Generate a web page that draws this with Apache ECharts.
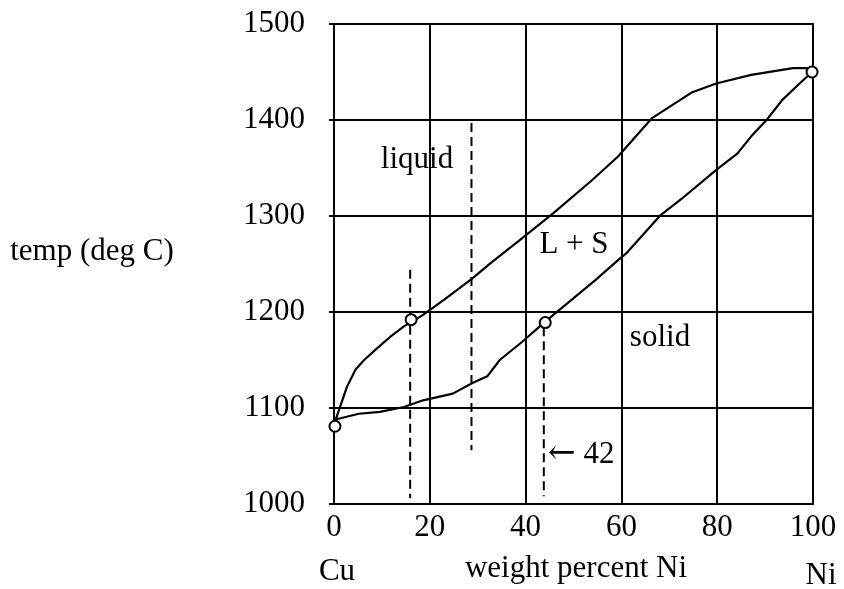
<!DOCTYPE html>
<html>
<head>
<meta charset="utf-8">
<script src="https://cdn.jsdelivr.net/npm/echarts@6/dist/echarts.min.js"></script>
<style>
  html, body { margin: 0; padding: 0; background: #fff; }
  #chart { width: 844px; height: 589px; }
</style>
</head>
<body>
<div id="chart"></div>
<script>
// Cu-Ni phase diagram
var liquidusX = [0.3, 2.7, 4.5, 6.3, 8.5, 11.7, 14.6, 18.6, 23.3, 28.9, 32.7, 39.3, 45.8, 53.8, 59.3, 66.4, 74.8, 79.8, 87.1, 95.8, 99.8];
var liquidusT = [1087, 1122, 1140, 1150, 1160, 1174, 1185, 1197, 1214, 1235, 1251, 1277, 1303, 1337, 1362, 1402, 1429, 1438, 1447, 1454, 1454];
var solidusX = [0.3, 5.2, 9.6, 14.6, 18.6, 24.8, 28.9, 32.0, 34.6, 39.3, 44.1, 48.7, 54.5, 59.3, 61.0, 68.2, 72.6, 79.8, 84.2, 87.1, 90.3, 93.6, 97.2, 99.8];
var solidusT = [1088, 1094, 1096, 1101, 1108, 1115, 1126, 1133, 1150, 1169, 1190, 1209, 1233, 1254, 1261, 1301, 1318, 1348, 1365, 1383, 1400, 1421, 1438, 1450];
var markerX = [0.2, 16.1, 44.1, 99.8];
var markerT = [1081, 1192, 1189, 1450];
var dashX = [15.9, 28.7, 43.8];
var dashTop = [1244, 1397, 1184];
var dashBottom = [1006, 1056, 1008];

var FONT = '31px "Liberation Serif", "Times New Roman", serif';

function pairs(xs, ys) {
  var out = [];
  for (var i = 0; i < xs.length; i++) out.push([xs[i], ys[i]]);
  return out;
}

var series = [
  {
    name: 'liquidus', type: 'line', data: pairs(liquidusX, liquidusT),
    showSymbol: false, lineStyle: { color: '#000', width: 2.2 }, z: 3
  },
  {
    name: 'solidus', type: 'line', data: pairs(solidusX, solidusT),
    showSymbol: false, lineStyle: { color: '#000', width: 2.2 }, z: 3
  }
];
for (var i = 0; i < dashX.length; i++) {
  series.push({
    type: 'line', data: [[dashX[i], dashTop[i]], [dashX[i], dashBottom[i]]],
    showSymbol: false, lineStyle: { color: '#000', width: 2, type: [9, 5] }, z: 3
  });
}
series.push({
  type: 'scatter', data: pairs(markerX, markerT), symbol: 'circle', symbolSize: 11,
  itemStyle: { color: '#fff', borderColor: '#000', borderWidth: 2, opacity: 1 }, z: 5
});

var chart = echarts.init(document.getElementById('chart'));
chart.setOption({
  animation: false,
  backgroundColor: '#fff',
  grid: { left: 334, right: 31, top: 24, bottom: 85, show: true, borderColor: '#000', borderWidth: 2 },
  xAxis: {
    type: 'value', min: 0, max: 100, interval: 20,
    axisLine: { show: true, lineStyle: { color: '#000', width: 2 } },
    axisTick: { show: false },
    splitLine: { show: true, lineStyle: { color: '#000', width: 2 } },
    axisLabel: { color: '#000', fontFamily: 'Liberation Serif', fontSize: 31, margin: 8 }
  },
  yAxis: {
    type: 'value', min: 1000, max: 1500, interval: 100,
    axisLine: { show: true, lineStyle: { color: '#000', width: 2 } },
    axisTick: { show: true, length: 5, lineStyle: { color: '#000', width: 2 } },
    splitLine: { show: true, lineStyle: { color: '#000', width: 2 } },
    axisLabel: {
      color: '#000', fontFamily: 'Liberation Serif', fontSize: 31, margin: 29,
      formatter: function (v) { return String(v); }
    }
  },
  graphic: [
    { type: 'text', x: 92, y: 252, style: { text: 'temp (deg C)', font: FONT, fill: '#000', align: 'center', verticalAlign: 'middle' } },
    { type: 'text', x: 417, y: 160, style: { text: 'liquid', font: FONT, fill: '#000', align: 'center', verticalAlign: 'middle' } },
    { type: 'text', x: 574, y: 245, style: { text: 'L + S', font: FONT, fill: '#000', align: 'center', verticalAlign: 'middle' } },
    { type: 'text', x: 660, y: 338, style: { text: 'solid', font: FONT, fill: '#000', align: 'center', verticalAlign: 'middle' } },
    {
      type: 'text', x: 548, y: 455,
      style: {
        text: '{a|\u2190} 42', font: FONT, fill: '#000', align: 'left', verticalAlign: 'middle',
        rich: { a: { fontFamily: 'DejaVu Serif', fontSize: 33, fill: '#000', padding: [0, 0, 2, 0] } }
      }
    },
    { type: 'text', x: 337, y: 572, style: { text: 'Cu', font: FONT, fill: '#000', align: 'center', verticalAlign: 'middle' } },
    { type: 'text', x: 576, y: 569, style: { text: 'weight percent Ni', font: FONT, fill: '#000', align: 'center', verticalAlign: 'middle' } },
    { type: 'text', x: 821, y: 576, style: { text: 'Ni', font: FONT, fill: '#000', align: 'center', verticalAlign: 'middle' } }
  ],
  series: series
});
</script>
</body>
</html>
